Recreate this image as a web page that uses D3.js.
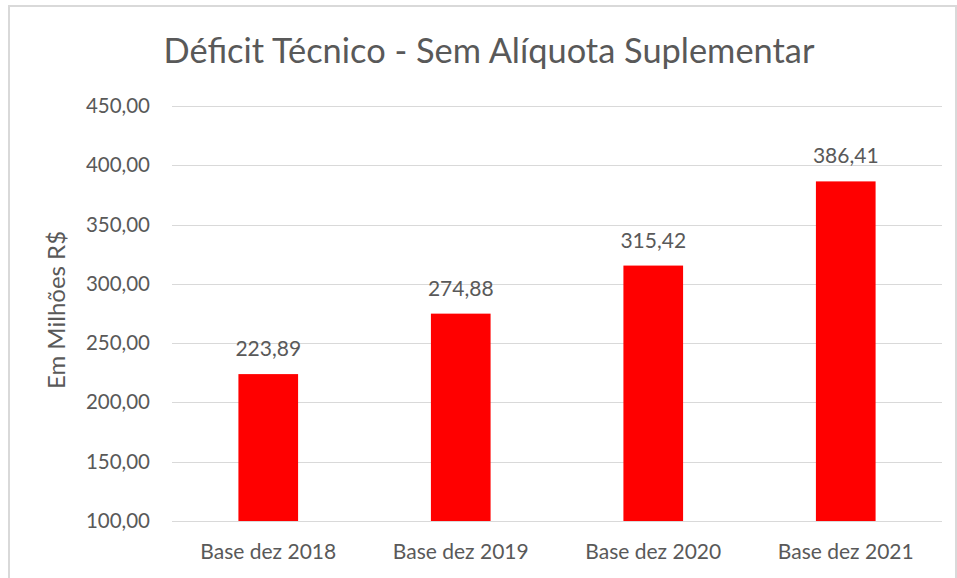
<!DOCTYPE html>
<meta charset="utf-8">
<style>
body { margin: 0; background: #fff; }
text { font-family: Lato, "Open Sans", sans-serif; fill: #595959; }
.grid line { stroke: #d9d9d9; stroke-width: 1px; shape-rendering: crispEdges; }
.grid path { stroke-width: 0; }
</style>
<body>
<script src="https://d3js.org/d3.v7.min.js"></script>
<script>

// data
var categories = ["Base dez 2018", "Base dez 2019", "Base dez 2020", "Base dez 2021"];
var values = [223.89, 274.88, 315.42, 386.41];
var yTicks = [100, 150, 200, 250, 300, 350, 400, 450];

var W = 957, H = 578;
var margin = {top: 106, right: 15, bottom: 57, left: 172},
    width = 942 - margin.left,
    height = 521 - margin.top;

var fmt = function(v) { return d3.format(".2f")(v).replace(".", ","); };

var svg = d3.select("body").append("svg")
    .attr("width", W)
    .attr("height", H);

// outer chart border
svg.append("rect")
    .attr("x", 9).attr("y", 6)
    .attr("width", W - 10).attr("height", H - 4)
    .attr("fill", "none")
    .attr("stroke", "#d9d9d9")
    .attr("stroke-width", 2);

var g = svg.append("g")
    .attr("transform", "translate(" + margin.left + "," + margin.top + ")");

var x = d3.scaleBand().domain(categories).range([0, width]).paddingInner(0.69).paddingOuter(0.345);
var y = d3.scaleLinear().domain([100, 450]).range([height, 0]);

// gridlines
g.append("g")
    .attr("class", "grid")
    .call(d3.axisLeft(y).tickValues(yTicks).tickSize(-width).tickFormat(""));

// y tick labels
g.append("g")
    .call(d3.axisLeft(y).tickValues(yTicks).tickSize(0).tickPadding(22).tickFormat(fmt))
    .call(function(s) { s.select(".domain").remove(); })
    .selectAll("text")
    .style("font-size", "20.5px")
    .attr("fill", "#595959");

// x labels
g.append("g")
    .attr("transform", "translate(0," + height + ")")
    .call(d3.axisBottom(x).tickSize(0).tickPadding(23))
    .call(function(s) { s.select(".domain").remove(); })
    .selectAll("text")
    .style("font-size", "21px")
    .attr("fill", "#595959");

// bars
g.selectAll(".bar")
    .data(values)
  .enter().append("rect")
    .attr("class", "bar")
    .attr("x", function(d, i) { return x(categories[i]); })
    .attr("width", x.bandwidth())
    .attr("y", function(d) { return y(d); })
    .attr("height", function(d) { return height - y(d); })
    .attr("fill", "#ff0000");

// value labels
g.selectAll(".lbl")
    .data(values)
  .enter().append("text")
    .attr("class", "lbl")
    .attr("x", function(d, i) { return x(categories[i]) + x.bandwidth() / 2; })
    .attr("y", function(d) { return y(d) - 18; })
    .attr("text-anchor", "middle")
    .style("font-size", "21px")
    .text(fmt);

// title
svg.append("text")
    .attr("x", 489)
    .attr("y", 63)
    .attr("text-anchor", "middle")
    .style("font-size", "34.4px")
    .text("Déficit Técnico - Sem Alíquota Suplementar");

// y axis title
svg.append("text")
    .attr("transform", "translate(65," + 310 + ") rotate(-90)")
    .attr("text-anchor", "middle")
    .style("font-size", "24px")
    .text("Em Milhões R$");

</script>
</body>
